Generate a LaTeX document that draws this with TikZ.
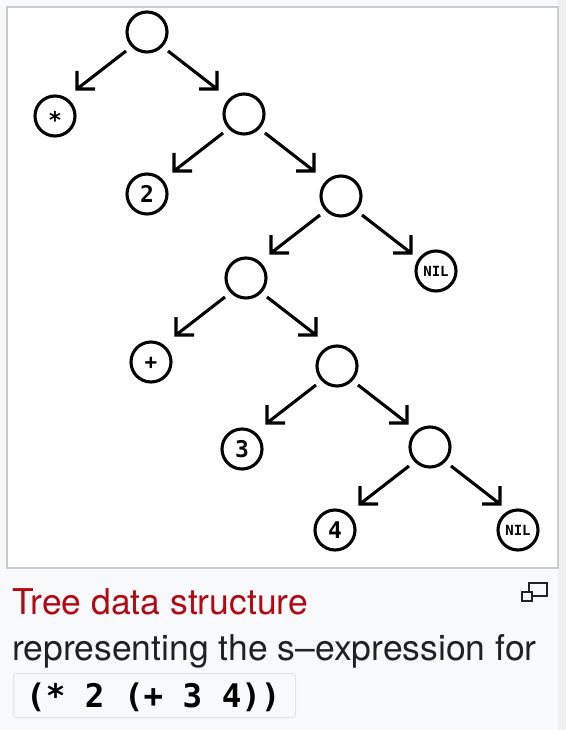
\documentclass[tikz,border=0pt]{standalone}
\usepackage{fontspec}
\setmainfont{TeX Gyre Heros}
\newfontfamily\monofont{DejaVu Sans Mono}
\definecolor{pagebg}{HTML}{F8F9FA}
\definecolor{stripbg}{HTML}{EFF1F3}
\definecolor{framecol}{HTML}{C8CCD1}
\definecolor{captext}{HTML}{202122}
\definecolor{linkred}{HTML}{B20A14}
\definecolor{codeborder}{HTML}{E2E4E8}
\definecolor{iconcol}{HTML}{222222}
\newcommand\lbl[2]{\raisebox{-#1}[0pt][0pt]{#2}}
\begin{document}
\begin{tikzpicture}[x=1pt,y=-1pt,
  treeline/.style={line width=3.1pt, draw=black},
  inner/.style={circle, treeline, minimum size=40pt, inner sep=0pt, fill=white},
  leaf/.style={circle, treeline, minimum size=40pt, inner sep=0pt, fill=white, font=\monofont\bfseries\fontsize{23}{23}\selectfont},
  nilleaf/.style={leaf, font=\monofont\bfseries\fontsize{14}{14}\selectfont},
  conn/.style={treeline, line join=miter},
  lconn/.style={to path={([shift={(-21,19)}]\tikztostart.center) -- ([shift={(-70,57)}]\tikztostart.center)
      ([shift={(-52,57)}]\tikztostart.center) -- ([shift={(-70,57)}]\tikztostart.center) -- ([shift={(-70,39)}]\tikztostart.center)}},
  rconn/.style={to path={([shift={(21,19)}]\tikztostart.center) -- ([shift={(70,57)}]\tikztostart.center)
      ([shift={(52,57)}]\tikztostart.center) -- ([shift={(70,57)}]\tikztostart.center) -- ([shift={(70,39)}]\tikztostart.center)}},
  captionfont/.style={font=\fontsize{35.5}{40}\selectfont, inner sep=0pt, anchor=base west},
  iconbox/.style={draw=iconcol, line width=1.4pt}
]
\useasboundingbox (0,0) rectangle (566,730);
\fill[pagebg] (0,0) rectangle (566,730);
\fill[stripbg] (558,0) rectangle (566,730);
\draw[framecol, line width=1.5pt, fill=white] (7,7) rectangle (558,568);

% tree nodes
\node[inner] (root) at (147,32) {};
\node[leaf] (star) at (55,116) {\lbl{13pt}{*}};
\node[inner] (n2) at (244,114) {};
\node[leaf] (two) at (147,194) {\lbl{8.4pt}{2}};
\node[inner] (n3) at (341,196) {};
\node[nilleaf] (nilA) at (436,271) {\lbl{5.1pt}{NIL}};
\node[inner] (n4) at (246,278) {};
\node[leaf] (plus) at (151,362) {\lbl{7pt}{\fontsize{21}{21}\selectfont +}};
\node[inner] (n5) at (337,366) {};
\node[leaf] (three) at (242,449) {\lbl{8.4pt}{3}};
\node[inner] (n6) at (430,447) {};
\node[leaf] (four) at (335,530) {\lbl{8.4pt}{4}};
\node[nilleaf] (nilB) at (518,530) {\lbl{5.1pt}{NIL}};

% connectors
\draw[conn, lconn] (root) to (star);
\draw[conn, rconn] (root) to (n2);
\draw[conn, lconn] (n2) to (two);
\draw[conn, rconn] (n2) to (n3);
\draw[conn, lconn] (n3) to (n4);
\draw[conn, rconn] (n3) to (nilA);
\draw[conn, lconn] (n4) to (plus);
\draw[conn, rconn] (n4) to (n5);
\draw[conn, lconn] (n5) to (three);
\draw[conn, rconn] (n5) to (n6);
\draw[conn, lconn] (n6) to (four);
\draw[conn, rconn] (n6) to (nilB);

% caption
\node[captionfont, text=linkred] (title) at (12,614) {Tree data structure};
\node[captionfont, text=captext] (desc) at (12,660) {representing the s–expression for};
\node[draw=codeborder, line width=1pt, fill=pagebg, rounded corners=3pt, minimum width=282pt, minimum height=44pt, inner sep=0pt, anchor=north west] (codebg) at (13,673) {};
\node[inner sep=0pt, anchor=base west, font=\monofont\bfseries\fontsize{32.5}{33}\selectfont, text=black] (code) at (26,707) {(* 2 (+ 3 4))};

% enlarge icon
\draw[iconbox, fill=pagebg] (529,583) rectangle (547,596);
\draw[iconbox, fill=pagebg] (522,592) rectangle (532,601);
\end{tikzpicture}
\end{document}
